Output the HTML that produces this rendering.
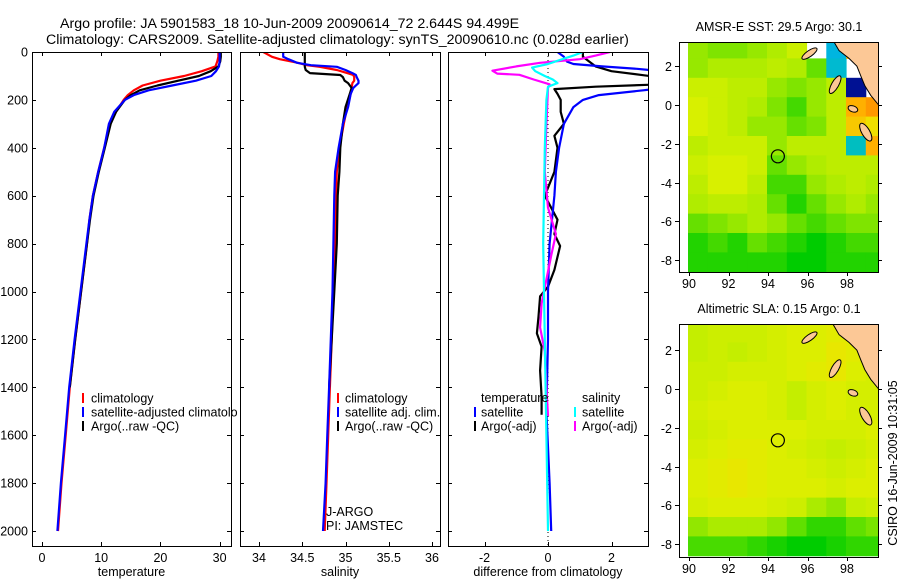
<!DOCTYPE html>
<html><head><meta charset="utf-8"><style>
html,body{margin:0;padding:0;background:#fff;}
svg{display:block;font-family:"Liberation Sans",sans-serif;}
</style></head><body>
<svg id="fig" width="900" height="580" viewBox="0 0 900 580" xmlns="http://www.w3.org/2000/svg">
<defs>
<clipPath id="c1"><rect x="32" y="52" width="199" height="494"/></clipPath>
<clipPath id="c1t"><rect x="32" y="52" width="206" height="494"/></clipPath>
<clipPath id="c2"><rect x="240" y="52" width="200" height="494"/></clipPath>
<clipPath id="c3"><rect x="448" y="52" width="200" height="494"/></clipPath>
<clipPath id="cm1"><rect x="679" y="42" width="199" height="230"/></clipPath>
<clipPath id="cm2"><rect x="679" y="324" width="199" height="233"/></clipPath>
</defs>
<text x="60" y="28" font-size="14.2">Argo profile: JA 5901583_18 10-Jun-2009 20090614_72 2.644S 94.499E</text>
<text x="46" y="44" font-size="14.2">Climatology: CARS2009. Satellite-adjusted climatology: synTS_20090610.nc (0.028d earlier)</text>
</svg>
<script>
// ---------- profile data ----------
const depthT = [0,20,40,60,80,100,120,140,160,180,200,250,300,400,500,600,700,800,1000,1200,1400,1600,1800,2000];
const tClim  = [29.8,29.8,29.6,29.3,27.0,24.0,20.0,17.0,15.5,14.5,13.8,12.5,11.5,10.5,9.5,8.6,8.0,7.6,6.6,5.6,4.7,4.0,3.3,2.7];
const tSat   = [30.0,30.0,30.0,29.9,29.4,28.6,26.0,22.0,18.0,15.5,14.0,12.2,11.3,10.5,9.5,8.6,8.0,7.5,6.5,5.5,4.6,3.9,3.2,2.6];
const tArgo  = [30.2,30.2,30.1,29.8,28.5,26.5,23.0,19.5,16.5,15.0,14.0,12.5,11.6,10.6,9.6,8.7,8.1,7.6,6.6,5.6,4.7];

const depthS = [0,20,30,45,55,62,75,88,96,105,120,130,150,175,230,300,400,500,600,800,1000,1200,1400,1600,1800,2000];
const sClim  = [34.05,34.15,34.24,34.45,34.55,34.7,34.9,35.02,35.09,35.1,35.1,35.08,35.07,35.06,35.02,34.98,34.93,34.9,34.89,34.88,34.86,34.84,34.82,34.8,34.78,34.76];
const sSat   = [34.28,34.28,34.34,34.44,34.6,34.9,35.0,35.08,35.12,35.13,35.15,35.15,35.09,35.06,35.03,34.97,34.92,34.88,34.87,34.86,34.85,34.83,34.81,34.79,34.77,34.74];
const sArgo  = [34.53,34.53,34.53,34.53,34.53,34.53,34.54,34.59,34.94,34.97,34.99,35.03,35.07,35.05,35.0,34.97,34.94,34.93,34.91,34.9,34.87,34.84,34.81];

// ---------- difference panel data ----------
const dTSatDepth = [0,20,40,50,60,70,80,150,160,180,200,230,300,400,500,600,800,1000,1200,1500,1800,2000];
const dTSat      = [0.3,0.5,0.6,0.8,1.7,2.8,3.6,3.6,3.0,1.6,1.1,0.8,0.5,0.35,0.25,0.2,0.05,0.0,0.0,-0.05,0.05,0.1];
const dTArgoDepth = [0,20,40,60,80,100,120,135,145,155,175,200,250,300,350,400,500,600,700,760,810,910,980,1020,1105,1175,1230,1330,1440,1515];
const dTArgo      = [1.1,1.1,1.3,1.5,2.0,3.2,3.6,3.6,1.5,0.2,0.3,0.4,0.4,0.5,0.2,0.3,0.2,-0.1,0.3,0.2,0.38,0.2,0.0,-0.25,-0.3,-0.35,-0.2,-0.25,-0.2,-0.2];
const dSSatDepth = [0,15,30,50,65,80,100,115,130,145,200,400,800,1200,1600,2000];
const dSSat      = [1.1,0.8,0.45,0.0,-0.5,-0.4,-0.1,0.15,0.3,0.0,-0.05,-0.1,-0.15,-0.1,-0.05,0.0];
const dSArgoDepth = [0,15,30,45,60,78,90,95,115,135,150,300,500,650,760,850,950,1050,1150,1250,1400,1520];
const dSArgo      = [1.95,1.5,1.0,-0.25,-1.0,-1.75,-1.6,-0.9,-0.45,0.05,0.0,-0.05,-0.1,0.0,0.25,0.1,-0.05,-0.2,-0.25,-0.1,-0.05,0.0];

// ---------- axis ticks ----------
const depthTicks = [0,200,400,600,800,1000,1200,1400,1600,1800,2000];
const tempTicks = [0,10,20,30];
const salTicks = [34,34.5,35,35.5,36];
const diffTicks = [-2,0,2];
const latTicks = [2,0,-2,-4,-6,-8];
const lonTicks = [90,92,94,96,98];

// ---------- map data (1 degree cells, rows from lat 3.4 southward, cols from lon 89.95 eastward) ----------
const sstGrid = [
 [29.4,29.3,29.3,29.4,29.5,29.7,NaN,28.1,30.3,NaN],
 [29.4,29.5,29.5,29.5,29.6,29.5,29.2,28.2,NaN,NaN],
 [29.7,29.7,29.6,29.6,29.4,29.3,29.4,29.6,27.3,NaN],
 [29.8,29.7,29.6,29.5,29.3,29.1,29.4,29.6,30.3,30.4],
 [29.8,29.7,29.6,29.4,29.4,29.2,29.3,29.6,30.2,30.1],
 [29.6,29.7,29.7,29.7,29.4,29.6,29.6,29.6,28.3,30.3],
 [29.7,29.8,29.8,29.7,29.2,29.4,29.5,29.6,29.6,29.6],
 [29.6,29.8,29.8,29.6,29.1,29.1,29.4,29.5,29.6,29.5],
 [29.5,29.6,29.6,29.5,29.2,29.0,29.2,29.4,29.5,29.4],
 [29.2,29.3,29.4,29.5,29.4,29.2,29.1,29.2,29.3,29.3],
 [29.0,29.1,29.0,29.2,29.1,29.0,28.9,29.0,29.1,29.1],
 [29.0,29.0,29.0,29.0,29.0,28.9,28.9,29.0,29.0,29.0]
];
const slaGrid = [
 [0.13,0.14,0.14,0.14,0.15,0.16,0.16,0.17,0.17,0.17],
 [0.13,0.14,0.13,0.14,0.15,0.16,0.16,0.18,0.17,0.16],
 [0.14,0.14,0.15,0.15,0.15,0.16,0.17,0.18,0.16,0.15],
 [0.14,0.15,0.16,0.16,0.15,0.13,0.15,0.16,0.15,0.15],
 [0.15,0.16,0.16,0.16,0.15,0.13,0.15,0.16,0.15,0.15],
 [0.14,0.15,0.16,0.16,0.16,0.16,0.15,0.15,0.15,0.16],
 [0.15,0.16,0.17,0.17,0.16,0.15,0.14,0.13,0.14,0.15],
 [0.16,0.17,0.18,0.17,0.16,0.16,0.15,0.14,0.15,0.16],
 [0.16,0.17,0.18,0.17,0.16,0.16,0.16,0.15,0.16,0.16],
 [0.15,0.16,0.16,0.16,0.15,0.14,0.12,0.11,0.13,0.14],
 [0.11,0.12,0.12,0.12,0.11,0.09,0.07,0.07,0.09,0.10],
 [0.08,0.08,0.08,0.07,0.06,0.05,0.05,0.06,0.07,0.07]
];
const argoLon = 94.5, argoLat = -2.644;
const coastLon = [97.2,97.6,98.1,98.5,98.7,98.9,99.2,99.6,99.8,99.8];
const coastLat = [3.5,2.8,2.4,2.0,1.5,1.0,0.5,0.0,0.0,3.5];

const NS='http://www.w3.org/2000/svg';
const svg=document.getElementById('fig');
function mk(tag,attrs,parent){const e=document.createElementNS(NS,tag);for(const k in attrs)e.setAttribute(k,attrs[k]);(parent||svg).appendChild(e);return e;}
function grp(clip){const g=mk('g',clip?{'clip-path':'url(#'+clip+')'}:{});return g;}

const Y=d=>52+d*0.2395;
const X1=t=>42+t*5.92;
const X2=s=>259+(s-34)*86.5;
const X3=v=>548+v*31.75;

function frame(x0,x1,y0,y1,name){
  const r=mk('rect',{x:x0+0.5,y:y0+0.5,width:x1-x0,height:y1-y0,fill:'none',stroke:'#000','stroke-width':1});
  
  
}
function line(pts,color,w,g,name){
  const p=mk('polyline',{points:pts.map(q=>q[0].toFixed(1)+','+q[1].toFixed(1)).join(' '),fill:'none',stroke:color,'stroke-width':w,'stroke-linejoin':'round'},g);
  
  
}
function txt(x,y,s,opts,name,parent){
  const t=mk('text',Object.assign({x:x,y:y,'font-size':12.5},opts||{}),parent);
  t.textContent=s;
  
  
  return t;
}
function tick(x1,y1,x2,y2){mk('line',{x1:x1,y1:y1,x2:x2,y2:y2,stroke:'#000','stroke-width':1});}

// ---------- profile panels ----------
const panels=[[32,231,X1,tempTicks,'temperature','temperature-panel'],[240,440,X2,salTicks,'salinity','salinity-panel'],[448,648,X3,diffTicks,'difference from climatology','difference-panel']];
panels.forEach(([x0,x1,fx,xt,lab,name],pi)=>{
  depthTicks.forEach(d=>{const y=Math.round(Y(d))+0.5;tick(x0,y,x0+4,y);tick(x1-4,y,x1,y);});
  xt.forEach(v=>{const x=Math.round(fx(v))+0.5;tick(x,52,x,56);tick(x,542,x,546);
    txt(fx(v),562,String(v),{'text-anchor':'middle'},name+'-x-tick-label');});
  txt((x0+x1)/2,576,lab,{'text-anchor':'middle'},name+'-x-axis-title');
});
depthTicks.forEach(d=>txt(28,Y(d)+4.5,String(d),{'text-anchor':'end'},'depth-tick-label'));
const zl=mk('line',{x1:X3(0),y1:52,x2:X3(0),y2:546,stroke:'#000','stroke-width':1,'stroke-dasharray':'1,3'});



const g1=grp('c1'),g2=grp('c2'),g3=grp('c3');
line(depthT.map((d,i)=>[X1(tClim[i]),Y(d)]),'#ff0000',2.2,g1,'temperature-climatology-line');
line(tArgo.map((v,i)=>[X1(v),Y(depthT[i])]),'#000',2.2,g1,'temperature-argo-line');
line(depthT.map((d,i)=>[X1(tSat[i]),Y(d)]),'#0000ff',2.2,g1,'temperature-satellite-line');
line(depthS.map((d,i)=>[X2(sClim[i]),Y(d)]),'#ff0000',2.2,g2,'salinity-climatology-line');
line(sArgo.map((v,i)=>[X2(v),Y(depthS[i])]),'#000',2.2,g2,'salinity-argo-line');
line(depthS.map((d,i)=>[X2(sSat[i]),Y(d)]),'#0000ff',2.2,g2,'salinity-satellite-line');
line(dTArgoDepth.map((d,i)=>[X3(dTArgo[i]),Y(d)]),'#000',2.2,g3,'temp-diff-argo-line');
line(dTSatDepth.map((d,i)=>[X3(dTSat[i]),Y(d)]),'#0000ff',2.2,g3,'temp-diff-satellite-line');
line(dSArgoDepth.map((d,i)=>[X3(dSArgo[i]),Y(d)]),'#ff00ff',2.2,g3,'sal-diff-argo-line');
line(dSSatDepth.map((d,i)=>[X3(dSSat[i]),Y(d)]),'#00ffff',2.2,g3,'sal-diff-satellite-line');

// legends
const gl1=grp('c1t');
[['#ff0000','climatology'],['#0000ff','satellite-adjusted climatology'],['#000','Argo(..raw -QC)']].forEach(([c,s],i)=>{
  const y=398+i*14;
  const b=mk('rect',{x:82,y:y-5,width:2,height:10,fill:c},gl1);
  
  
  txt(91,y+4.5,s,{},'legend-entry',gl1);
});
[['#ff0000','climatology'],['#0000ff','satellite adj. clim.'],['#000','Argo(..raw -QC)']].forEach(([c,s],i)=>{
  const y=398+i*14;
  const b=mk('rect',{x:337,y:y-5,width:2,height:10,fill:c});
  
  
  txt(345,y+4.5,s,{},'legend-entry');
});
txt(326,516,'J-ARGO',{},'float-program-label');
txt(326,530,'PI: JAMSTEC',{},'pi-label');
const gl3=grp('c3');
txt(481,402,'temperature',{},'legend-heading-temperature',gl3);
txt(582,402,'salinity',{},'legend-heading-salinity',gl3);
[['#0000ff','satellite',474,481],['#000','Argo(-adj)',474,481],['#00ffff','satellite',574,582],['#ff00ff','Argo(-adj)',574,582]].forEach(([c,s,bx,tx],i)=>{
  const y=412+(i%2)*14;
  const b=mk('rect',{x:bx,y:y-5,width:2,height:10,fill:c});
  
  
  txt(tx,y+4.5,s,{},'legend-entry');
});
frame(32,231,52,546,'temperature-panel-frame');
frame(240,440,52,546,'salinity-panel-frame');
frame(448,648,52,546,'difference-panel-frame');

// ---------- maps ----------
function interp(stops,v){
  if(v<=stops[0][0])return stops[0][1];
  for(let i=1;i<stops.length;i++){if(v<=stops[i][0]){const a=stops[i-1],b=stops[i],f=(v-a[0])/(b[0]-a[0]);
    const ca=a[1].match(/\w\w/g).map(h=>parseInt(h,16)),cb=b[1].match(/\w\w/g).map(h=>parseInt(h,16));
    return 'rgb('+ca.map((x,k)=>Math.round(x+(cb[k]-x)*f)).join(',')+')';}}
  return stops[stops.length-1][1];
}
const sstStops=[[27.2,'#000080'],[27.6,'#0044cc'],[28.0,'#00b0f0'],[28.5,'#00c8a0'],[28.9,'#00cc00'],[29.2,'#66e000'],[29.5,'#b0ec00'],[29.8,'#d8f000'],[30.1,'#f0e000'],[30.3,'#ffb000'],[30.5,'#ff8000']];
const slaStops=[[0.05,'#00cc00'],[0.09,'#60e000'],[0.13,'#c4ee00'],[0.16,'#dcee00'],[0.19,'#eee400']];
const LX=l=>689+(l-90)*19.75;

function drawMap(grid,stops,y0,y1,latY,clip,title,name){
  const g=grp(clip);
  grid.forEach((row,j)=>row.forEach((v,i)=>{
    if(isNaN(v))return;
    const xa=LX(89.95+i),xb=LX(90.95+i),ya=latY(3.4-j),yb=latY(2.4-j);
    const r=mk('rect',{x:xa.toFixed(1),y:ya.toFixed(1),width:(xb-xa+0.5).toFixed(1),height:(yb-ya+0.5).toFixed(1),fill:interp(stops,v)},g);
    
    
  }));
  const land=mk('polygon',{points:coastLon.map((l,i)=>LX(l).toFixed(1)+','+latY(coastLat[i]).toFixed(1)).join(' '),fill:'#fcc896',stroke:'#000','stroke-width':1},g);
  
  
  [[96.1,2.65,9,3,-35],[97.4,1.05,10,3.5,-60],[98.3,-0.2,3,5,-70],[98.95,-1.4,4,10,-30]].forEach(([lo,la,rx,ry,rot])=>{
    const e=mk('ellipse',{cx:LX(lo),cy:latY(la),rx:rx,ry:ry,transform:'rotate('+rot+' '+LX(lo)+' '+latY(la)+')',fill:'#fcc896',stroke:'#000','stroke-width':1},g);
    
    
  });
  const c=mk('circle',{cx:LX(argoLon),cy:latY(argoLat),r:6.5,fill:'none',stroke:'#000','stroke-width':1.2},g);
  
  
  frame(679,878,y0,y1,name+'-frame');
  latTicks.forEach(l=>{const y=Math.round(latY(l))+0.5;tick(675,y,679,y);tick(878,y,882,y);
    txt(672,y+4.5,String(l),{'text-anchor':'end'},name+'-lat-label');});
  lonTicks.forEach(l=>{const x=Math.round(LX(l))+0.5;tick(x,y1,x,y1+4);
    txt(LX(l),y1+16,String(l),{'text-anchor':'middle'},name+'-lon-label');});
  txt(779,y0-11,title,{'text-anchor':'middle'},name+'-title');
}
drawMap(sstGrid,sstStops,42,272,l=>105-l*19.4,'cm1','AMSR-E SST: 29.5 Argo: 30.1','sst-map');
drawMap(slaGrid,slaStops,324,557,l=>389-l*19.4,'cm2','Altimetric SLA: 0.15 Argo: 0.1','sla-map');
txt(0,0,'CSIRO 16-Jun-2009 10:31:05',{'text-anchor':'middle',transform:'translate(897,463) rotate(-90)'},'timestamp-label');
</script>
</body></html>
